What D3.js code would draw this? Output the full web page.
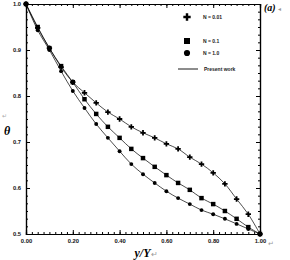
<!DOCTYPE html>
<html>
<head>
<meta charset="utf-8">
<script src="https://cdn.jsdelivr.net/npm/d3@7"></script>
<style>
  body { margin: 0; background: #fff; }
  svg { display: block; }
  .tick text { font-family: "Liberation Sans", Arial, sans-serif; font-weight: bold; font-size: 5.8px; fill: #111; }
</style>
</head>
<body>
<div id="chart"></div>
<script>
// y/Y positions of the markers
const xs = [0, 0.05, 0.10, 0.15, 0.20, 0.25, 0.30, 0.35, 0.40, 0.45, 0.50,
            0.55, 0.60, 0.65, 0.70, 0.75, 0.80, 0.85, 0.90, 0.95, 1.0];

// theta for each N
const thetaN001 = [1.0, 0.948, 0.904, 0.863, 0.830, 0.807, 0.785, 0.765, 0.750, 0.733, 0.720,
                   0.709, 0.696, 0.685, 0.667, 0.652, 0.633, 0.609, 0.576, 0.543, 0.5];
const thetaN01  = [1.0, 0.950, 0.904, 0.865, 0.830, 0.793, 0.761, 0.733, 0.709, 0.685, 0.665,
                   0.646, 0.628, 0.611, 0.596, 0.578, 0.565, 0.550, 0.533, 0.515, 0.5];
const thetaN1   = [1.0, 0.943, 0.900, 0.854, 0.811, 0.774, 0.739, 0.709, 0.680, 0.652, 0.630,
                   0.611, 0.593, 0.578, 0.565, 0.552, 0.543, 0.533, 0.522, 0.511, 0.5];

const xTicks = [0, 0.2, 0.4, 0.6, 0.8, 1.0];
const yTicks = [0.5, 0.6, 0.7, 0.8, 0.9, 1.0];
const legendLabels = ["N = 0.01", "N = 0.1", "N = 1.0", "Present work"];

const W = 290, H = 260;
const m = {left: 26, top: 4, right: 30, bottom: 26};
const iw = W - m.left - m.right, ih = H - m.top - m.bottom;

const svg = d3.select("#chart").append("svg").attr("width", W).attr("height", H);
const g = svg.append("g").attr("transform", `translate(${m.left},${m.top})`);

const x = d3.scaleLinear().domain([0, 1]).range([0, iw]);
const y = d3.scaleLinear().domain([0.5, 1]).range([ih, 0]);

const minorX = d3.range(0, 1.0001, 0.025);
const minorY = d3.range(0.5, 1.0001, 0.1 / 6);

// minor ticks, pointing inward on all four sides
g.append("g").attr("transform", `translate(0,${ih})`)
  .call(d3.axisBottom(x).tickValues(minorX).tickSize(-2).tickFormat(""));
g.append("g").call(d3.axisTop(x).tickValues(minorX).tickSize(-2).tickFormat(""));
g.append("g").call(d3.axisLeft(y).tickValues(minorY).tickSize(-2).tickFormat(""));
g.append("g").attr("transform", `translate(${iw},0)`)
  .call(d3.axisRight(y).tickValues(minorY).tickSize(-2).tickFormat(""));

// major ticks
g.append("g").attr("transform", `translate(0,${ih})`)
  .call(d3.axisBottom(x).tickValues(xTicks).tickSize(-4).tickPadding(5).tickFormat(d3.format(".2f")));
g.append("g").call(d3.axisTop(x).tickValues(xTicks).tickSize(-4).tickFormat(""));
g.append("g")
  .call(d3.axisLeft(y).tickValues(yTicks).tickSize(-4).tickPadding(5).tickFormat(d3.format(".1f")));
g.append("g").attr("transform", `translate(${iw},0)`)
  .call(d3.axisRight(y).tickValues(yTicks).tickSize(-4).tickFormat(""));

g.selectAll(".domain").attr("stroke", "#000").attr("stroke-width", 1.2);
g.selectAll(".tick line").attr("stroke", "#000");

// little return mark after the 1.00 label
svg.append("text").attr("x", m.left + iw + 8).attr("y", m.top + ih + 11.5)
  .attr("font-size", 7).attr("fill", "#999").text("\u21B5");

// curves + markers
const line = d3.line().x(d => x(d[0])).y(d => y(d[1])).curve(d3.curveCatmullRom);
const series = [
  {vals: thetaN001, sym: d3.symbolCross, size: 16},
  {vals: thetaN01, sym: d3.symbolSquare, size: 20},
  {vals: thetaN1, sym: d3.symbolCircle, size: 12}
];

series.forEach(s => {
  const pts = xs.map((v, i) => [v, s.vals[i]]);
  g.append("path").datum(pts).attr("d", line)
    .attr("fill", "none").attr("stroke", "#000").attr("stroke-width", 0.7);
  g.selectAll(null).data(pts).enter().append("path")
    .attr("transform", d => `translate(${x(d[0])},${y(d[1])})`)
    .attr("d", d3.symbol().type(s.sym).size(s.size))
    .attr("fill", "#000");
});

// legend
const lg = svg.append("g").attr("font-family", "Liberation Sans, Arial, sans-serif")
  .attr("font-size", 5).attr("font-weight", "bold").attr("fill", "#222");
const legSyms = [d3.symbolCross, d3.symbolSquare, d3.symbolCircle];
const legSizes = [30, 36, 30];
const legY = [17, 41, 53, 69];
legSyms.forEach((s, i) => {
  lg.append("path").attr("transform", `translate(187,${legY[i]})`)
    .attr("d", d3.symbol().type(s).size(legSizes[i])).attr("fill", "#000");
});
lg.append("line").attr("x1", 178).attr("x2", 198).attr("y1", legY[3]).attr("y2", legY[3])
  .attr("stroke", "#000").attr("stroke-width", 0.9);
legendLabels.forEach((t, i) => {
  lg.append("text").attr("x", i < 3 ? 203 : 204).attr("y", legY[i] + 1.8).text(t);
});

// panel label and axis titles
svg.append("text").attr("x", 264).attr("y", 11)
  .attr("font-family", "Liberation Serif, Times New Roman, serif")
  .attr("font-style", "italic").attr("font-weight", "bold").attr("font-size", 10)
  .text("(a)");
svg.append("text").attr("x", 278).attr("y", 10.5).attr("font-size", 6).attr("fill", "#999").text("\u25C2");

svg.append("text").attr("x", 7).attr("y", 135).attr("text-anchor", "middle")
  .attr("font-family", "Liberation Serif, Times New Roman, serif")
  .attr("font-style", "italic").attr("font-weight", "bold").attr("font-size", 12)
  .text("\u03B8");
svg.append("text").attr("x", 4).attr("y", 118).attr("text-anchor", "middle")
  .attr("font-size", 6).attr("fill", "#aaa").text("\u21B5");

const xt = svg.append("text").attr("x", 146).attr("y", 257).attr("text-anchor", "middle")
  .attr("font-family", "Liberation Serif, Times New Roman, serif")
  .attr("font-style", "italic").attr("font-weight", "bold").attr("font-size", 12);
xt.append("tspan").text("y/Y");
xt.append("tspan").attr("font-size", 8).attr("font-style", "normal").attr("font-weight", "normal")
  .attr("fill", "#999").text("\u21B5");
</script>
</body>
</html>
